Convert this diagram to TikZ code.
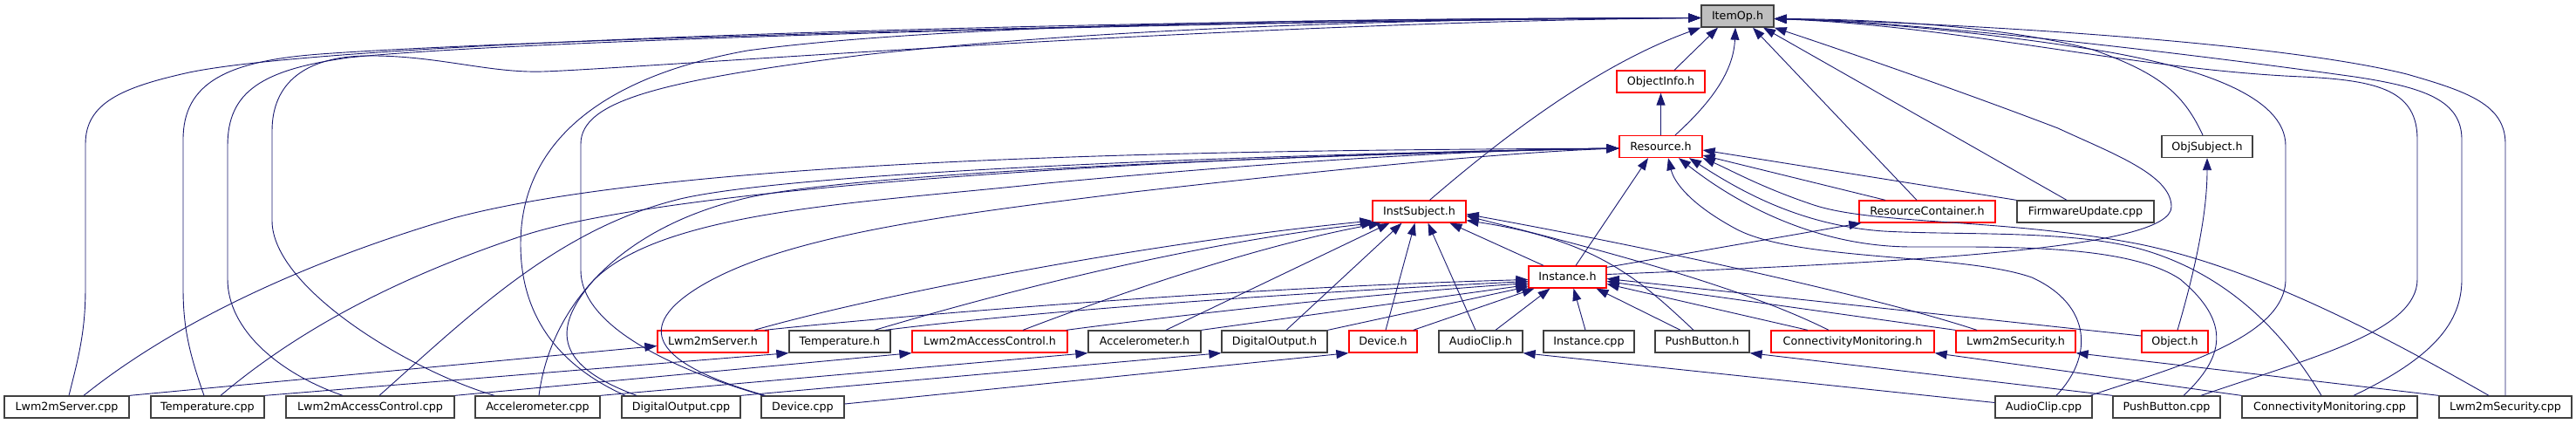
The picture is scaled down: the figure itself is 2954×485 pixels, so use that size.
\documentclass[tikz,border=0pt]{standalone}
\usepackage{fontspec}
\newfontfamily\dvs{DejaVu Sans}
\usetikzlibrary{arrows.meta}
\definecolor{edgeblue}{HTML}{191970}
\definecolor{nodeline}{HTML}{404040}
\definecolor{rootfill}{HTML}{BFBFBF}
\definecolor{trunc}{HTML}{FF0000}
\begin{document}
\begin{tikzpicture}[x=1pt,y=-1pt,
  fbox/.style={rectangle, draw=nodeline, fill=white, line width=1.3pt, minimum height=25pt, inner sep=0pt, text height=9pt, text depth=1pt, font=\dvs\fontsize{12.7}{15}\selectfont},
  rbox/.style={fbox, draw=trunc},
  rootbox/.style={fbox, fill=rootfill},
  dep/.style={draw=edgeblue, line width=0.9pt, -{Triangle[length=14pt,width=10pt]}}]
\useasboundingbox (0,0) rectangle (2954,485);
\fill[white] (0,0) rectangle (2954,485);

% nodes
\node[rootbox, minimum width=83pt] (itemop) at (1992.5,18.5) {ItemOp.h};
\node[rbox, minimum width=101pt] (objinfo) at (1904.5,93.5) {ObjectInfo.h};
\node[rbox, minimum width=95pt] (resource) at (1904.5,168) {Resource.h};
\node[fbox, minimum width=104pt] (objsubj) at (2531,168) {ObjSubject.h};
\node[rbox, minimum width=107pt] (instsubj) at (1627.5,242.5) {InstSubject.h};
\node[rbox, minimum width=156pt] (rescont) at (2210,242.5) {ResourceContainer.h};
\node[fbox, minimum width=157pt] (fwup) at (2391.5,242.5) {FirmwareUpdate.cpp};
\node[rbox, minimum width=89pt] (instance) at (1797.5,317.5) {Instance.h};

\node[rbox, minimum width=127pt] (lsh) at (817.5,391.5) {Lwm2mServer.h};
\node[fbox, minimum width=116pt] (temph) at (963,391.5) {Temperature.h};
\node[rbox, minimum width=178pt] (lach) at (1135,391.5) {Lwm2mAccessControl.h};
\node[fbox, minimum width=129pt] (acch) at (1312.5,391.5) {Accelerometer.h};
\node[fbox, minimum width=121pt] (doh) at (1461.5,391.5) {DigitalOutput.h};
\node[rbox, minimum width=78pt] (devh) at (1586,391.5) {Device.h};
\node[fbox, minimum width=96pt] (audh) at (1698,391.5) {AudioClip.h};
\node[fbox, minimum width=104pt] (instcpp) at (1822,391.5) {Instance.cpp};
\node[fbox, minimum width=108pt] (pbh) at (1952,391.5) {PushButton.h};
\node[rbox, minimum width=187pt] (cmh) at (2124.5,391.5) {ConnectivityMonitoring.h};
\node[rbox, minimum width=137pt] (lsech) at (2311.5,391.5) {Lwm2mSecurity.h};
\node[rbox, minimum width=76pt] (objh) at (2494,391.5) {Object.h};

\node[fbox, minimum width=143pt] (lscpp) at (76.5,466.5) {Lwm2mServer.cpp};
\node[fbox, minimum width=130pt] (tempcpp) at (238,466.5) {Temperature.cpp};
\node[fbox, minimum width=193pt] (laccpp) at (424.5,466.5) {Lwm2mAccessControl.cpp};
\node[fbox, minimum width=143pt] (acccpp) at (616.5,466.5) {Accelerometer.cpp};
\node[fbox, minimum width=136pt] (docpp) at (781,466.5) {DigitalOutput.cpp};
\node[fbox, minimum width=95pt] (devcpp) at (920.5,466.5) {Device.cpp};
\node[fbox, minimum width=111pt] (audcpp) at (2343.5,466.5) {AudioClip.cpp};
\node[fbox, minimum width=123pt] (pbcpp) at (2484.5,466.5) {PushButton.cpp};
\node[fbox, minimum width=201pt] (cmcpp) at (2671.5,466.5) {ConnectivityMonitoring.cpp};
\node[fbox, minimum width=152pt] (lseccpp) at (2873,466.5) {Lwm2mSecurity.cpp};

% into ItemOp.h from the far left
\draw[dep] ([xshift=2.5pt]lscpp.north) .. controls (90,410) and (98,380) .. (98,330) -- (98,165) .. controls (98,118) and (140,100) .. (217,83) .. controls (400,45) and (1300,22) .. ([yshift=-2pt]itemop.west);
\draw[dep] ([xshift=-4pt]tempcpp.north) .. controls (215,400) and (210,370) .. (210,330) -- (210,160) .. controls (210,95) and (260,70) .. (367,62) .. controls (600,45) and (1400,23) .. ([yshift=-2pt]itemop.west);
\draw[dep] ([xshift=-31.5pt]laccpp.north) .. controls (320,428) and (261,378) .. (261,320) -- (261,167) .. controls (261,105) and (300,80) .. (400,66) .. controls (600,45) and (1400,24) .. ([yshift=-2pt]itemop.west);
\draw[dep] ([xshift=-49.5pt]acccpp.north) .. controls (470,425) and (312,330) .. (312,253) -- (312,150) .. controls (312,95) and (350,65) .. (420,64) .. controls (500,63) and (560,84) .. (623,82) .. controls (720,79) and (1400,26) .. ([yshift=-2pt]itemop.west);
\draw[dep] ([xshift=-64pt]docpp.north) .. controls (620,410) and (597,340) .. (597,280) .. controls (597,170) and (680,90) .. (857,58) .. controls (1100,25) and (1600,21) .. ([yshift=-2pt]itemop.west);
\draw[dep] ([xshift=-45pt]devcpp.north) .. controls (760,420) and (666,370) .. (666,310) -- (666,165) .. controls (666,115) and (760,92) .. (990,63) .. controls (1300,28) and (1700,21) .. ([yshift=-2pt]itemop.west);

% into Resource.h from the left
\draw[dep] ([xshift=19.5pt]lscpp.north) .. controls (200,370) and (350,300) .. (520,250) .. controls (800,175) and (1500,172) .. ([yshift=-2pt]resource.west);
\draw[dep] ([xshift=15pt]tempcpp.north) .. controls (340,380) and (450,320) .. (600,270) .. controls (800,205) and (1500,175) .. ([yshift=-2pt]resource.west);
\draw[dep] ([xshift=10.5pt]laccpp.north) .. controls (540,360) and (640,262) .. (780,228) .. controls (920,195) and (1500,176) .. ([yshift=-2pt]resource.west);
\draw[dep] ([xshift=1.5pt]acccpp.north) .. controls (630,360) and (700,262) .. (860,226) .. controls (1000,196) and (1500,178) .. ([yshift=-2pt]resource.west);
\draw[dep] ([xshift=-51pt]docpp.north) .. controls (640,420) and (630,380) .. (680,322) .. controls (760,240) and (1000,232) .. (1200,210) .. controls (1500,182) and (1700,172) .. ([yshift=-2pt]resource.west);
\draw[dep] ([xshift=-43pt]devcpp.north) .. controls (760,420) and (720,380) .. (800,330) .. controls (900,268) and (1100,245) .. (1300,220) .. controls (1600,186) and (1750,174) .. ([yshift=-2pt]resource.west);

% into InstSubject.h
\draw[dep] ([xshift=47.5pt]lsh.north) .. controls (1000,340) and (1300,280) .. ([yshift=-10.5pt]instsubj.west);
\draw[dep] ([xshift=40pt]temph.north) .. controls (1200,320) and (1400,275) .. ([xshift=2pt]instsubj.south west);
\draw[dep] ([xshift=38pt]lach.north) .. controls (1300,330) and (1450,280) .. ([xshift=-44pt]instsubj.south);
\draw[dep] ([xshift=24.5pt]acch.north) -- ([xshift=-34pt]instsubj.south);
\draw[dep] ([xshift=13.5pt]doh.north) -- ([xshift=-20pt]instsubj.south);
\draw[dep] ([xshift=3pt]devh.north) -- ([xshift=-5pt]instsubj.south);
\draw[dep] ([xshift=-6pt]audh.north) -- ([xshift=10pt]instsubj.south);
\draw[dep] ([xshift=-27.5pt]instance.north) -- ([xshift=35pt]instsubj.south);
\draw[dep] ([xshift=-10pt]pbh.north) .. controls (1880,320) and (1830,275) .. ([yshift=3pt]instsubj.south east);
\draw[dep] ([xshift=-27.5pt]cmh.north) .. controls (2000,330) and (1850,290) .. ([yshift=-5pt]instsubj.east);
\draw[dep] ([xshift=-44.5pt]lsech.north) .. controls (2150,340) and (1900,285) .. ([yshift=-3pt]instsubj.east);

% into Instance.h
\draw[dep] ([xshift=59.5pt]lsh.north) .. controls (1000,365) and (1400,330) .. ([yshift=-3pt]instance.west);
\draw[dep] ([xshift=52pt]temph.north) .. controls (1200,355) and (1500,335) .. ([yshift=-5pt]instance.west);
\draw[dep] ([xshift=-2pt]lach.north east) .. controls (1400,355) and (1600,335) .. ([yshift=-7pt]instance.west);
\draw[dep] (acch.north east) -- ([yshift=-9pt]instance.west);
\draw[dep] (doh.north east) -- ([yshift=-11pt]instance.west);
\draw[dep] ([xshift=-5pt]devh.north east) -- ([xshift=-38pt]instance.south);
\draw[dep] ([xshift=17pt]audh.north) -- ([xshift=-20pt]instance.south);
\draw[dep] ([xshift=-4pt]instcpp.north) -- ([xshift=7pt]instance.south);
\draw[dep] ([xshift=-25pt]pbh.north) -- ([xshift=33pt]instance.south);
\draw[dep] ([xshift=-51.5pt]cmh.north) -- ([yshift=-8pt]instance.east);
\draw[dep] (lsech.north west) -- ([yshift=-5pt]instance.east);
\draw[dep] ([yshift=6.5pt]objh.west) -- ([yshift=-2pt]instance.east);

% Instance.h to its headers
\draw[dep] ([xshift=9.5pt]instance.north) -- ([xshift=-14.5pt]resource.south);
\draw[dep] ([yshift=-2pt]instance.north east) -- ([xshift=3pt]rescont.south west);
\draw[dep] ([yshift=3pt]instance.east) .. controls (2200,300) and (2490,285) .. (2490,237) .. controls (2490,200) and (2420,175) .. (2360,147) .. controls (2250,105) and (2120,60) .. (itemop.south east);

% into ItemOp.h from below
\draw[dep] ([xshift=15.5pt]objinfo.north) -- ([xshift=-22.5pt]itemop.south);
\draw[dep] ([xshift=16.5pt]resource.north) .. controls (1965,115) and (1988,80) .. ([xshift=-2.5pt]itemop.south);
\draw[dep] ([xshift=12pt]instsubj.north) .. controls (1720,160) and (1830,75) .. (itemop.south west);
\draw[dep] ([xshift=-12pt]rescont.north) -- ([xshift=17.5pt]itemop.south);
\draw[dep] ([xshift=-21.5pt]fwup.north) -- ([xshift=29.5pt]itemop.south);
\draw[dep] (resource.north) -- (objinfo.south);

% into ItemOp.h from the right
\draw[dep] ([xshift=-5pt]objsubj.north) .. controls (2505,110) and (2480,85) .. (2400,57) .. controls (2300,30) and (2150,22) .. ([yshift=-3pt]itemop.east);
\draw[dep] ([xshift=53.5pt]audcpp.north) .. controls (2480,425) and (2621,390) .. (2621,320) -- (2621,167) .. controls (2621,110) and (2520,78) .. (2420,60) .. controls (2250,32) and (2100,23) .. ([yshift=-3pt]itemop.east);
\draw[dep] ([xshift=39.5pt]pbcpp.north) .. controls (2650,410) and (2772,380) .. (2772,320) -- (2772,160) .. controls (2772,105) and (2730,92) .. (2640,88) .. controls (2450,80) and (2250,30) .. ([yshift=-3pt]itemop.east);
\draw[dep] ([xshift=27.5pt]cmcpp.north) .. controls (2790,410) and (2823,370) .. (2823,320) -- (2823,160) .. controls (2823,115) and (2780,100) .. (2700,88) .. controls (2500,60) and (2200,25) .. ([yshift=-3pt]itemop.east);
\draw[dep] (lseccpp.north) -- (2873,165) .. controls (2873,120) and (2830,105) .. (2760,85) .. controls (2600,45) and (2200,25) .. ([yshift=-3pt]itemop.east);

% into Resource.h from the right
\draw[dep] ([xshift=-48pt]rescont.north) -- ([yshift=-10pt]resource.east);
\draw[dep] (fwup.north west) -- ([yshift=-4pt]resource.east);
\draw[dep] ([xshift=14.5pt]audcpp.north) .. controls (2400,410) and (2400,350) .. (2330,318) .. controls (2250,290) and (2060,300) .. (1990,262) .. controls (1940,235) and (1920,210) .. ([xshift=8.5pt]resource.south);
\draw[dep] ([xshift=19.5pt]pbcpp.north) .. controls (2550,410) and (2560,370) .. (2500,320) .. controls (2440,280) and (2300,283) .. (2193,283) .. controls (2090,283) and (2000,240) .. ([xshift=20.5pt]resource.south);
\draw[dep] ([xshift=-9.5pt]cmcpp.north) .. controls (2630,400) and (2570,320) .. (2460,287) .. controls (2380,263) and (2250,270) .. (2160,265) .. controls (2060,258) and (1990,215) .. ([xshift=32.5pt]resource.south);
\draw[dep] ([xshift=-19pt]lseccpp.north) .. controls (2760,400) and (2600,310) .. (2454,280) .. controls (2300,250) and (2150,258) .. (2080,235) .. controls (2020,215) and (1985,195) .. (resource.south east);

% Object.h to ObjSubject.h
\draw[dep] ([xshift=3pt]objh.north) .. controls (2520,300) and (2531,240) .. (objsubj.south);

% sources to their own headers
\draw[dep] (lscpp.north east) -- ([yshift=-5pt]lsh.west);
\draw[dep] (tempcpp.north east) -- (temph.south west);
\draw[dep] (laccpp.north east) -- (lach.south west);
\draw[dep] (acccpp.north east) -- (acch.south west);
\draw[dep] (docpp.north east) -- (doh.south west);
\draw[dep] ([yshift=3.5pt]devcpp.east) -- (devh.south west);
\draw[dep] ([yshift=5pt]audcpp.west) -- (audh.south east);
\draw[dep] (pbcpp.north west) -- (pbh.south east);
\draw[dep] (cmcpp.north west) -- (cmh.south east);
\draw[dep] (lseccpp.north west) -- (lsech.south east);
\end{tikzpicture}
\end{document}
